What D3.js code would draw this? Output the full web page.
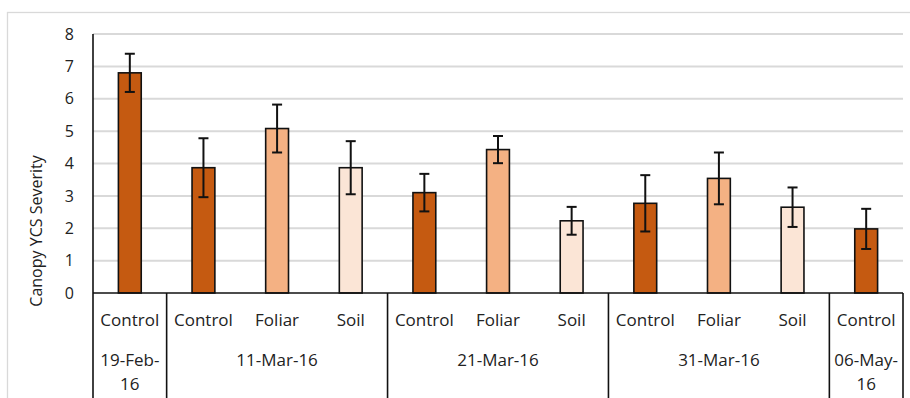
<!DOCTYPE html>
<html>
<head>
<meta charset="utf-8">
<script src="https://cdn.jsdelivr.net/npm/d3@7"></script>
<style>
  html, body { margin: 0; padding: 0; background: #fff; }
  svg { display: block; }
  text { font-family: "Open Sans", sans-serif; fill: #222; }
</style>
</head>
<body>
<svg id="chart" width="910" height="398"></svg>
<script>
// ---- data ----
const treatments = ["Control", "Control", "Foliar", "Soil", "Control", "Foliar", "Soil", "Control", "Foliar", "Soil", "Control"];
const dates = ["19-Feb-16", "11-Mar-16", "21-Mar-16", "31-Mar-16", "06-May-16"];
const groupSizes = [1, 3, 3, 3, 1];
const means = [6.80, 3.87, 5.08, 3.87, 3.10, 4.43, 2.23, 2.77, 3.54, 2.65, 1.98];
const errors = [0.59, 0.91, 0.74, 0.82, 0.58, 0.42, 0.43, 0.87, 0.80, 0.61, 0.62];
const yTicks = [0, 1, 2, 3, 4, 5, 6, 7, 8];
const yTitle = "Canopy YCS Severity";
const colorNames = ["Control", "Foliar", "Soil"];
const colorValues = ["#C55A11", "#F4B183", "#FBE5D6"];

(function () {
// ---- layout ----
const W = 910, H = 398;
const pLeft = 93, pRight = 903, pTop = 34, pBottom = 293;

const svg = d3.select("#chart");

// chart border (light gray)
svg.append("rect")
  .attr("x", 7.5).attr("y", 12.5)
  .attr("width", W + 20).attr("height", H + 20)
  .attr("fill", "none").attr("stroke", "#D9D9D9").attr("stroke-width", 1.3);

const x = d3.scaleBand().domain(d3.range(means.length)).range([pLeft, pRight]).padding(0);
const y = d3.scaleLinear().domain([0, 8]).range([pBottom, pTop]);
const color = d3.scaleOrdinal().domain(colorNames).range(colorValues);
const barW = x.bandwidth() * 0.31;

// gridlines
svg.append("g").selectAll("line").data(yTicks.filter(t => t > 0)).join("line")
  .attr("x1", pLeft).attr("x2", pRight)
  .attr("y1", d => y(d)).attr("y2", d => y(d))
  .attr("stroke", "#D9D9D9").attr("stroke-width", 2);

// y axis labels
const yAxis = d3.axisLeft(y).tickValues(yTicks).tickSize(0).tickPadding(19).tickFormat(d3.format("d"));
const gy = svg.append("g").attr("transform", `translate(${pLeft},0)`).call(yAxis);
gy.select(".domain").remove();
gy.selectAll("text").style("font-size", "16px").style("font-family", "'Open Sans', sans-serif").attr("fill", "#222");

// bars
svg.append("g").selectAll("rect").data(means).join("rect")
  .attr("x", (d, i) => x(i) + (x.bandwidth() - barW) / 2)
  .attr("y", d => y(d))
  .attr("width", barW)
  .attr("height", d => y(0) - y(d))
  .attr("fill", (d, i) => color(treatments[i]))
  .attr("stroke", "#111").attr("stroke-width", 1.6);

// error bars
const eg = svg.append("g").attr("stroke", "#111").attr("stroke-width", 2);
means.forEach((m, i) => {
  const cx = x(i) + x.bandwidth() / 2;
  const hi = y(m + errors[i]), lo = y(m - errors[i]);
  eg.append("line").attr("x1", cx).attr("x2", cx).attr("y1", hi).attr("y2", lo);
  eg.append("line").attr("x1", cx - 5).attr("x2", cx + 5).attr("y1", hi).attr("y2", hi);
  eg.append("line").attr("x1", cx - 5).attr("x2", cx + 5).attr("y1", lo).attr("y2", lo);
});

// axes lines
const ax = svg.append("g").attr("stroke", "#111").attr("stroke-width", 1.6);
ax.append("line").attr("x1", pLeft).attr("x2", pLeft).attr("y1", pTop).attr("y2", H + 5);
ax.append("line").attr("x1", pLeft).attr("x2", pRight).attr("y1", pBottom).attr("y2", pBottom);

// category labels
svg.append("g").selectAll("text").data(treatments).join("text")
  .attr("x", (d, i) => x(i) + x.bandwidth() / 2)
  .attr("y", 326)
  .attr("text-anchor", "middle")
  .style("font-size", "17px")
  .text(d => d);

// group separators and date labels
let start = 0;
const gg = svg.append("g");
dates.forEach((dt, gi) => {
  const n = groupSizes[gi];
  const x0 = x(start), x1 = start + n < means.length ? x(start + n) : pRight;
  gg.append("line").attr("x1", x1).attr("x2", x1).attr("y1", pBottom).attr("y2", H + 5)
    .attr("stroke", "#111").attr("stroke-width", 1.6);
  const cx = (x0 + x1) / 2;
  const cut = dt.lastIndexOf("-") + 1;
  const lines = n === 1 ? [dt.slice(0, cut), dt.slice(cut)] : [dt];
  lines.forEach((ln, li) => {
    gg.append("text").attr("x", cx).attr("y", 366 + li * 24)
      .attr("text-anchor", "middle").style("font-size", "17px").text(ln);
  });
  start += n;
});

// y title
svg.append("text")
  .attr("transform", `translate(42,231) rotate(-90)`)
  .attr("text-anchor", "middle")
  .style("font-size", "16px")
  .text(yTitle);
})();
</script>
</body>
</html>
